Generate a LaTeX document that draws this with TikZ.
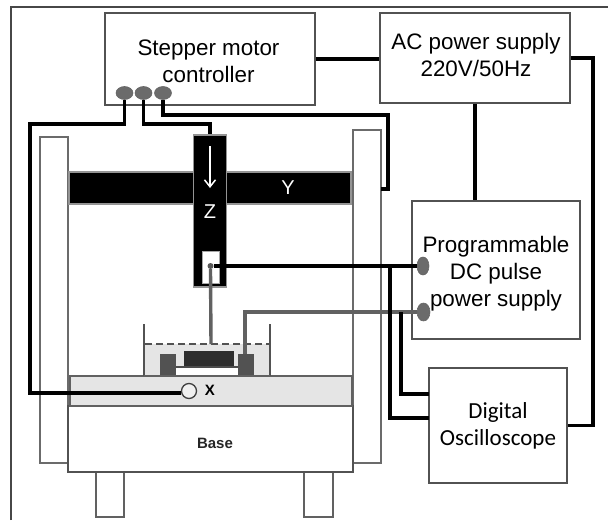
\documentclass[tikz,border=0pt]{standalone}
\usepackage{fontspec}
\setmainfont{Liberation Sans}
\newfontfamily\scopefont{Carlito}
\usetikzlibrary{
	shapes.geometric,
	arrows.meta,
	positioning,
	calc
}

\tikzset{
    unitbox/.style={draw=black!68, line width=1.7pt, fill=white, inner sep=0pt},
    railbox/.style={draw=black!58, line width=1.5pt, fill=white, inner sep=0pt},
    axisbox/.style={draw=black!42, line width=1.8pt, fill=black, inner sep=0pt},
    tablebox/.style={draw=black!62, line width=1.6pt, fill=black!10, inner sep=0pt},
    legbox/.style={draw=black!62, line width=1.6pt, fill=white, inner sep=0pt},
    portnode/.style={ellipse, draw=black!60, line width=0.6pt, fill=black!58, inner sep=0pt},
    wire/.style={draw=black, line width=3.4pt, line join=miter},
    greywire/.style={draw=black!62, line width=3.4pt, line join=miter},
    axislabel/.style={text=white, font=\fontsize{20}{24}\selectfont},
    boxtext/.style={align=center, font=\fontsize{22.4}{27}\selectfont}
}

\begin{document}
\begin{tikzpicture}[x=1pt, y=-1pt]
\useasboundingbox (0,0) rectangle (608,520);

% Outer frame (left and top only)
\draw[black!72, line width=1.3pt] (11,520) |- (608,7);

% Columns and legs
\node[railbox, minimum width=28, minimum height=326] (railL) at (54,300) {};
\node[railbox, minimum width=28, minimum height=333] (railR) at (367,296.5) {};
\node[legbox, minimum width=28, minimum height=45] (legL) at (110,494.5) {};
\node[legbox, minimum width=29, minimum height=45] (legR) at (318.5,494.5) {};

% Base and X table
\node[railbox, draw=black!68, minimum width=285, minimum height=66] (base) at (210.5,439) {};
\node[font=\bfseries\fontsize{15}{17}\selectfont, text=black!85] (baselabel) at (215,443) {Base};
\node[tablebox, minimum width=282, minimum height=30] (tableX) at (211,391) {};

% Bath with electrodes
\fill[black!10] (144,344) rectangle (270,376);
\draw[black!68, line width=1.5pt] (144,324) -- (144,376);
\draw[black!68, line width=1.5pt] (270,324) -- (270,376);
\draw[black!68, line width=1.5pt, dash pattern=on 7pt off 4pt] (145,344) -- (269,344);
\fill[white] (175,368) rectangle (238,375);
\draw[black!70, line width=1.5pt] (175,367) -- (238,367);
\node[fill=black!82, minimum width=50, minimum height=15, inner sep=0pt] (sample) at (209,358.5) {};
\node[fill=black!68, minimum width=16, minimum height=22, inner sep=0pt] (padL) at (167.5,365) {};
\node[fill=black!68, minimum width=16, minimum height=22, inner sep=0pt] (padR) at (246,365) {};
\draw[black!62, line width=1.4pt] (144,376) -- (270,376);

% Y and Z axes
\node[axisbox, minimum width=282, minimum height=32] (axisY) at (210,188) {};
\node[axislabel] (labelY) at (288,188) {Y};
\node[axisbox, minimum width=33, minimum height=152] (axisZ) at (210,211) {};
\node[axislabel] (labelZ) at (210,212) {Z};
\coordinate (arrowtop) at (210,146);
\coordinate (arrowend) at (210,188);
\draw[white, line width=1.5pt, -{Straight Barb[length=7pt,width=11pt]}] (arrowtop) -- (arrowend);
\node[fill=white, draw=black!35, line width=0.6pt, minimum width=17, minimum height=32, inner sep=0pt] (holder) at (210.5,267) {};

% Units
\node[unitbox, minimum width=210, minimum height=92] (ctrl) at (210,59) {};
\node[boxtext] (ctrllabel) at (208.5,61.5) {Stepper motor\\controller};
\node[unitbox, minimum width=190, minimum height=90] (acsup) at (475,58) {};
\node[boxtext] (aclabel) at (476,55) {AC power supply\\220V/50Hz};
\node[unitbox, minimum width=168, minimum height=138] (dcsup) at (496,270) {};
\node[boxtext] (dclabel) at (496,274) {Programmable\\DC pulse\\power supply};
\node[unitbox, minimum width=138, minimum height=115] (scope) at (498,425.5) {};
\node[align=center, font=\scopefont\fontsize{23}{27}\selectfont] (scopelabel) at (498,426) {Digital\\Oscilloscope};

% Ports
\node[portnode, minimum width=17, minimum height=13] (portA) at (124.5,93) {};
\node[portnode, minimum width=17, minimum height=13] (portB) at (143.5,93) {};
\node[portnode, minimum width=17, minimum height=13] (portC) at (163,93) {};
\node[portnode, minimum width=12, minimum height=18] (portP) at (423,266) {};
\node[portnode, minimum width=13, minimum height=18] (portN) at (423.5,312) {};
\node[circle, fill=black!65, minimum size=6, inner sep=0pt] (dot) at (210.5,266) {};
\node[circle, draw=black!75, line width=1.3pt, fill=black!6, minimum size=15, inner sep=0pt] (knobX) at (189,391) {};
\node[font=\bfseries\fontsize{15}{17}\selectfont] (labelX) at (210,390) {X};

% Bends and free ends of the wires
\coordinate (bendA) at (30,124);
\coordinate (bendB) at (143.5,124);
\coordinate (bendC) at (388,115);
\coordinate (inY) at (381,189);
\coordinate (bendE) at (593,240);
\coordinate (tapP) at (390,266);
\coordinate (tapN) at (401,312);
\coordinate (inP) at (429,418);
\coordinate (inN) at (429,394);
\coordinate (bathend) at (211,344);
\coordinate (padtop) at (245,312);

% Grey wires
\draw[greywire] (dot.south) -- (bathend);
\draw[greywire] (padR.north -| padtop) -- (padtop) -- (portN.west);

% Black wires
\draw[wire] (portA.south) |- (bendA) |- (knobX.195);
\draw[wire] (portB.south) -- (bendB) -| (axisZ.north);
\draw[wire] (portC.south) |- (bendC) |- (inY);
\draw[wire] (ctrl.east) -- (ctrl.east -| acsup.west);
\draw[wire] (acsup.east) -| (bendE) |- (scope.east);
\draw[wire] (acsup.south) -- (acsup.south |- dcsup.north);
\draw[wire] (dot.east) -- (portP.west);
\draw[wire] (tapP) |- (inP);
\draw[wire] (tapN) |- (inN);

\end{tikzpicture}
\end{document}
